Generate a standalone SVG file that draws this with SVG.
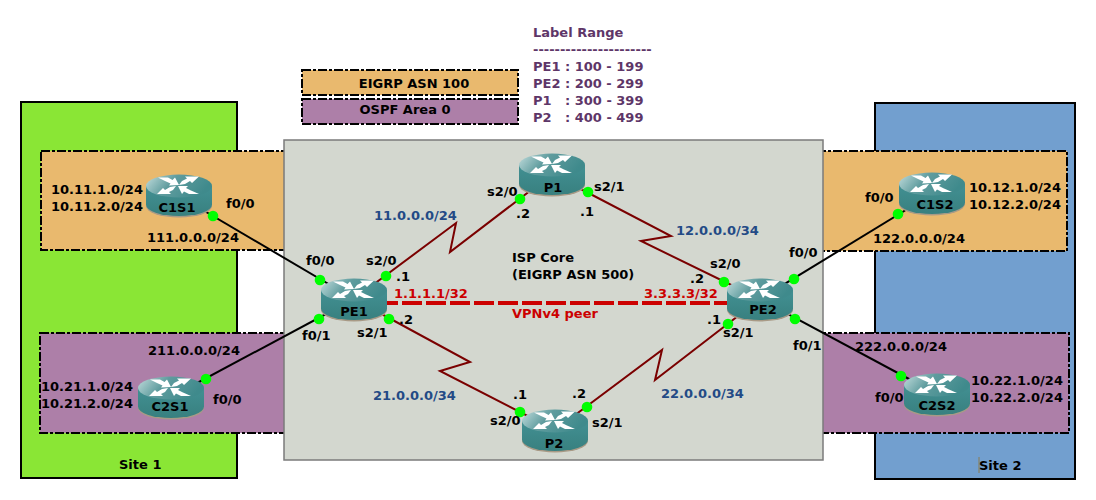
<svg xmlns="http://www.w3.org/2000/svg" width="1096" height="500" viewBox="0 0 1096 500">
<style>
text{font-family:"DejaVu Sans",sans-serif;font-weight:bold;font-size:13px;fill:#000}
.blue{fill:#234a86}.red{fill:#cc0000}.pur{fill:#5e3668}
.site{stroke:#000;stroke-width:2}
.zone{stroke:#000;stroke-width:2;stroke-dasharray:9 2 3 2}
.eth{stroke:#000;stroke-width:2;fill:none}
.ser{stroke:#7a0000;stroke-width:2;fill:none}
.dot{fill:#00ff00}
.name{text-anchor:middle}
</style>
<defs>
<linearGradient id="top" x1="0" y1="0" x2="1" y2="0.3"><stop offset="0" stop-color="#c4dede"/><stop offset="0.45" stop-color="#5f9c9e"/><stop offset="1" stop-color="#3f8a8c"/></linearGradient>
<linearGradient id="side" x1="0" y1="0" x2="0" y2="1"><stop offset="0" stop-color="#429093"/><stop offset="1" stop-color="#38807f"/></linearGradient>
<g id="router">
<ellipse cx="33" cy="32" rx="33" ry="11.500" fill="#a89a86"/>
<path d="M0 12V30.500A33 11.500 0 0 0 66 30.500V12Z" fill="url(#side)"/>
<ellipse cx="33" cy="12" rx="33" ry="11.500" fill="url(#top)"/>
<path d="M12 3.500L22 3.500L26.500 6L29 3.500L33 11L23 11.500L24.500 9.500L19 7ZM53 2.500L46 9L44 7L39 10L33 11L36 7L41 4.500L39 2.500ZM11 20L17 14L19 16L24 13L30 12L27 16L23 18L25 20ZM53 20L43 20L38 17.500L36 20L32 12L42 12L40 14L45 16.500Z" fill="#fff"/>
</g>
</defs>
<rect width="1096" height="500" fill="#fff"/>
<g id="site1"><rect class="site" x="21" y="102" width="216" height="376" fill="#8ae635"/><text x="119" y="469">Site 1</text></g>
<g id="site2"><rect class="site" x="875" y="103" width="200" height="376" fill="#729fcf"/><line x1="979" y1="457" x2="979" y2="473" stroke="#8a7a50"/><text x="979" y="470">Site 2</text></g>
<rect class="zone" x="41" y="151" width="250" height="99" fill="#e9b96e"/>
<rect class="zone" x="40" y="333" width="250" height="100" fill="#ad7fa8"/>
<rect class="zone" x="817" y="151" width="250" height="100" fill="#e9b96e"/>
<rect class="zone" x="817" y="333" width="252" height="100" fill="#ad7fa8"/>
<g id="legend">
<rect class="zone" x="302" y="70" width="216" height="25" fill="#e9b96e"/>
<rect class="zone" x="302" y="99" width="216" height="25" fill="#ad7fa8"/>
<text x="414" y="88" class="name">EIGRP ASN 100</text>
<text x="405" y="114" class="name">OSPF Area 0</text>
</g>
<g id="label-range">
<text class="pur" x="533" y="37">Label Range</text>
<text class="pur" x="533" y="54">----------------------</text>
<text class="pur" x="533" y="71">PE1 : 100 - 199</text>
<text class="pur" x="533" y="88">PE2 : 200 - 299</text>
<text class="pur" x="533" y="105">P1</text><text class="pur" x="565" y="105">: 300 - 399</text>
<text class="pur" x="533" y="122">P2</text><text class="pur" x="565" y="122">: 400 - 499</text>
</g>
<rect id="isp-core" x="284" y="140" width="539" height="320" fill="#d3d7cf" stroke="#7b7b7b" stroke-width="1.500"/>
<g id="connectors">
<line class="eth" x1="179" y1="196" x2="354" y2="299"/>
<line class="eth" x1="171" y1="397" x2="354" y2="299"/>
<line class="eth" x1="932" y1="194" x2="760" y2="299"/>
<line class="eth" x1="937" y1="394" x2="760" y2="299"/>
<polyline class="ser" points="354,299 456,223 450,252 552,174"/>
<polyline class="ser" points="552,174 671,236 641,241 760,299"/>
<polyline class="ser" points="354,299 470,362 440,371 555,430"/>
<polyline class="ser" points="555,430 662,350 655,380 760,299"/>
<line id="vpnv4" x1="354" y1="303" x2="760" y2="303" stroke="#cc0000" stroke-width="4" stroke-dasharray="20 4"/>
</g>
<g id="C1S1"><use href="#router" x="146" y="174"/><text class="name" x="177" y="212">C1S1</text></g>
<g id="C2S1"><use href="#router" x="138" y="376"/><text class="name" x="170" y="411">C2S1</text></g>
<g id="C1S2"><use href="#router" x="899" y="172"/><text class="name" x="935" y="209">C1S2</text></g>
<g id="C2S2"><use href="#router" x="904" y="373"/><text class="name" x="937" y="410">C2S2</text></g>
<g id="P1"><use href="#router" x="519" y="153"/><text class="name" x="553" y="192">P1</text></g>
<g id="P2"><use href="#router" x="522" y="409"/><text class="name" x="554" y="448">P2</text></g>
<g id="PE1"><use href="#router" x="321" y="278"/><text class="name" x="354" y="316">PE1</text></g>
<g id="PE2"><use href="#router" x="727" y="278"/><text class="name" x="763" y="314">PE2</text></g>
<g id="ports">
<circle class="dot" cx="213" cy="216" r="5.300"/><circle class="dot" cx="320" cy="280" r="5.300"/><circle class="dot" cx="386" cy="276" r="5.300"/><circle class="dot" cx="520" cy="199" r="5.300"/><circle class="dot" cx="588" cy="192" r="5.300"/><circle class="dot" cx="724" cy="282" r="5.300"/><circle class="dot" cx="794" cy="279" r="5.300"/><circle class="dot" cx="898" cy="214" r="5.300"/><circle class="dot" cx="728" cy="324" r="5.300"/><circle class="dot" cx="795" cy="319" r="5.300"/><circle class="dot" cx="901" cy="376" r="5.300"/><circle class="dot" cx="319" cy="319" r="5.300"/><circle class="dot" cx="389" cy="319" r="5.300"/><circle class="dot" cx="206" cy="379" r="5.300"/><circle class="dot" cx="520" cy="412" r="5.300"/><circle class="dot" cx="587" cy="407" r="5.300"/>
</g>
<g id="labels">
<text x="51" y="194">10.11.1.0/24</text><text x="51" y="211">10.11.2.0/24</text>
<text x="226" y="208">f0/0</text><text x="147" y="242">111.0.0.0/24</text>
<text x="41" y="391">10.21.1.0/24</text><text x="41" y="408">10.21.2.0/24</text>
<text x="148" y="355">211.0.0.0/24</text><text x="213" y="404">f0/0</text>
<text x="969" y="192">10.12.1.0/24</text><text x="969" y="209">10.12.2.0/24</text>
<text x="865" y="202">f0/0</text><text x="873" y="243">122.0.0.0/24</text>
<text x="971" y="385">10.22.1.0/24</text><text x="971" y="402">10.22.2.0/24</text>
<text x="855" y="351">222.0.0.0/24</text><text x="875" y="402">f0/0</text>
<text x="306" y="265">f0/0</text><text x="366" y="265">s2/0</text><text x="396" y="281">.1</text>
<text x="302" y="340">f0/1</text><text x="357" y="337">s2/1</text><text x="399" y="324">.2</text>
<text x="487" y="196">s2/0</text><text x="516" y="218">.2</text><text x="594" y="191">s2/1</text><text x="580" y="216">.1</text>
<text x="490" y="425">s2/0</text><text x="513" y="399">.1</text><text x="572" y="398">.2</text><text x="592" y="427">s2/1</text>
<text x="710" y="268">s2/0</text><text x="690" y="283">.2</text><text x="789" y="257">f0/0</text>
<text x="707" y="324">.1</text><text x="723" y="337">s2/1</text><text x="793" y="350">f0/1</text>
<text x="512" y="262">ISP Core</text><text x="512" y="279">(EIGRP ASN 500)</text>
<text class="blue" x="374" y="220">11.0.0.0/24</text><text class="blue" x="676" y="235">12.0.0.0/34</text>
<text class="blue" x="373" y="400">21.0.0.0/34</text><text class="blue" x="661" y="398">22.0.0.0/34</text>
<text class="red" x="394" y="298">1.1.1.1/32</text><text class="red" x="644" y="298">3.3.3.3/32</text><text class="red" x="512" y="318">VPNv4 peer</text>
</g>
</svg>
